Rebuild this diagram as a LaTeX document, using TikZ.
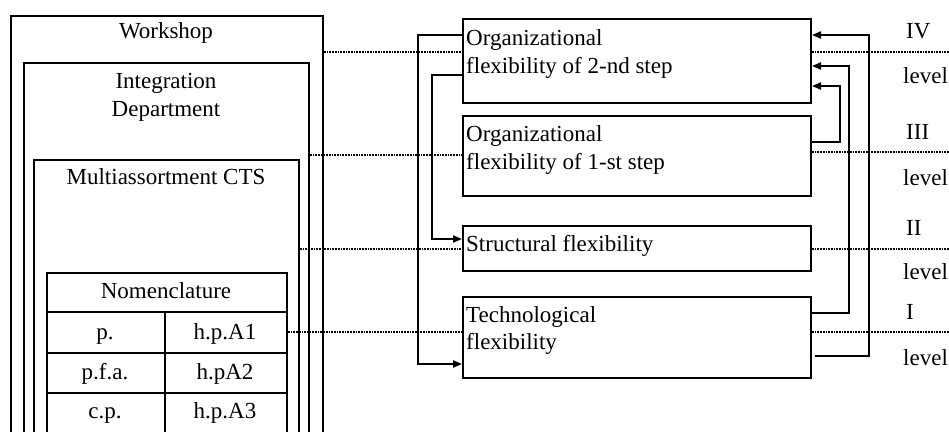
\documentclass[tikz,border=0pt]{standalone}
\usepackage{fontspec}
\setmainfont{Liberation Serif}
\usetikzlibrary{arrows.meta}
\begin{document}
\begin{tikzpicture}[x=1pt,y=-1pt,
 box/.style={draw, line width=2pt, inner sep=0pt, anchor=north west},
 txt/.style={inner sep=0pt, anchor=base, font=\fontsize{23}{28}\selectfont},
 ltxt/.style={txt, anchor=base west},
 dot/.style={densely dotted, line width=1.7pt},
 con/.style={line width=2pt},
 arr/.style={con, -{Triangle[length=9pt,width=7pt]}}]
\useasboundingbox (0,0) rectangle (949,431);
\clip (0,0) rectangle (949,431);
% left nested boxes
\node[box, minimum width=312pt, minimum height=430pt] (ws) at (10,15) {};
\node[box, minimum width=285pt, minimum height=383pt] (intd) at (23,62) {};
\node[box, minimum width=265pt, minimum height=286pt] (mcts) at (33,159) {};
\node[box, minimum width=240pt, minimum height=173pt] (tab) at (46,272) {};
\draw[con] (tab.west |- 0,312) -- (tab.east |- 0,312);
\draw[con] (tab.west |- 0,353) -- (tab.east |- 0,353);
\draw[con] (tab.west |- 0,393) -- (tab.east |- 0,393);
\draw[con] (165,312) -- (165,445);
\node[txt] (tws) at (166,38) {Workshop};
\node[txt] (tint1) at (166,88) {Integration};
\node[txt] (tint2) at (166,116) {Department};
\node[txt] (tmc) at (166,184) {Multiassortment CTS};
\node[txt] (tnom) at (166,298) {Nomenclature};
\node[txt] (c11) at (105,339) {p.};
\node[txt] (c12) at (225,339) {h.p.A1};
\node[txt] (c21) at (105,379) {p.f.a.};
\node[txt] (c22) at (225,379) {h.pA2};
\node[txt] (c31) at (105,418) {c.p.};
\node[txt] (c32) at (225,418) {h.p.A3};
% right boxes
\node[box, minimum width=348pt, minimum height=84pt] (org2) at (462,18) {};
\node[box, minimum width=348pt, minimum height=80pt] (org1) at (462,115) {};
\node[box, minimum width=348pt, minimum height=45pt] (str) at (462,225) {};
\node[box, minimum width=348pt, minimum height=81pt] (tech) at (462,296) {};
\node[ltxt] (o2a) at (466,45) {Organizational};
\node[ltxt] (o2b) at (466,73) {flexibility of 2-nd step};
\node[ltxt] (o1a) at (466,141) {Organizational};
\node[ltxt] (o1b) at (466,169) {flexibility of 1-st step};
\node[ltxt] (sa) at (466,251) {Structural flexibility};
\node[ltxt] (ta) at (466,322) {Technological};
\node[ltxt] (tb) at (466,349) {flexibility};
% level labels
\node[ltxt] (l4) at (906,38) {IV};
\node[ltxt] (lv4) at (903,83) {level};
\node[ltxt] (l3) at (906,139) {III};
\node[ltxt] (lv3) at (903,185) {level};
\node[ltxt] (l2) at (906,235) {II};
\node[ltxt] (lv2) at (903,279) {level};
\node[ltxt] (l1) at (906,319) {I};
\node[ltxt] (lv1) at (903,365) {level};
\coordinate (edge) at (949,0);
% dotted level lines
\draw[dot] (ws.east |- 0,52) -- (org2.west |- 0,52);
\draw[dot] (org2.east |- 0,52) -- (edge |- 0,52);
\draw[dot] (intd.east |- 0,155) -- (org1.west |- 0,155);
\draw[dot] (org1.east |- 0,152) -- (edge |- 0,152);
\draw[dot] (mcts.east |- 0,249) -- (str.west |- 0,249);
\draw[dot] (str.east |- 0,249) -- (edge |- 0,249);
\draw[dot] (tab.east |- 0,332) -- (tech.west |- 0,332);
\draw[dot] (tech.east |- 0,332) -- (edge |- 0,332);
% left connectors
\draw[arr] (org2.west |- 0,35) -- (418,35) -- (418,364) -- (tech.west |- 0,364);
\draw[arr] (org2.west |- 0,75) -- (432,75) -- (432,239) -- (str.west |- 0,239);
% right connectors
\draw[arr] ([xshift=3pt]tech.east |- 0,356) -- (869,356) -- (869,35) -- (org2.east |- 0,35);
\draw[arr] (tech.east |- 0,313) -- (849,313) -- (849,66) -- (org2.east |- 0,66);
\draw[arr] (org1.east |- 0,142) -- (840,142) -- (840,86) -- (org2.east |- 0,86);
\end{tikzpicture}
\end{document}
